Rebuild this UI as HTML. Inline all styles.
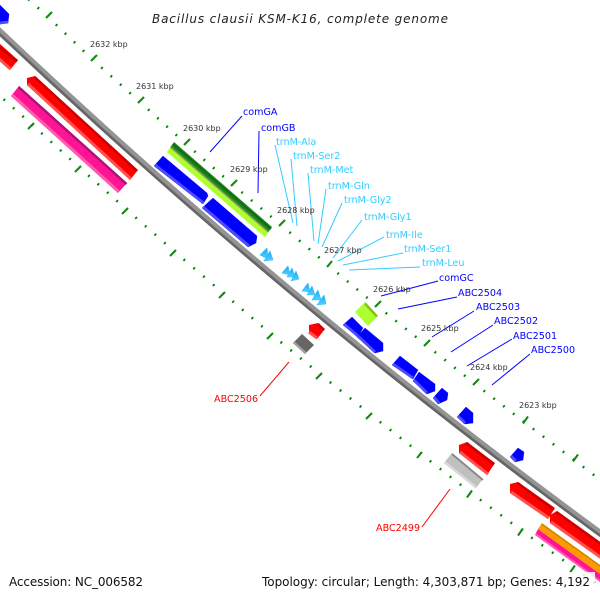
<!DOCTYPE html>
<html><head><meta charset="utf-8"><style>
html,body{margin:0;padding:0;background:#fff}
svg{display:block}
text{font-family:"DejaVu Sans",sans-serif}
.k{font-size:8px;fill:#333}
.b{font-size:9.6px;fill:#0000ff}
.c{font-size:9.6px;fill:#33ccff}
.r{font-size:9.6px;fill:#ff0000}
.f{font-size:12px;fill:#111}
.d{fill:none;stroke:#008000;stroke-width:2.6;stroke-dasharray:.14 .86;stroke-dashoffset:.07}
.m line{stroke:#128a12;stroke-width:2.1}
.lb line{stroke:#0000ff;stroke-width:1}
.lc line{stroke:#33ccff;stroke-width:1}
.lr line{stroke:#ff0000;stroke-width:1}
.bl polygon{fill:#0000ff;stroke:#0000ff;stroke-width:.4}
.bl line{stroke:#4d4dff;stroke-width:2.8}
.rd polygon{fill:#ff0000}
.rd line.u{stroke:#cc0000;stroke-width:2.5}
.rd line.l{stroke:#ff5050;stroke-width:3}
.tr polygon{fill:url(#cy);stroke:#33bbff;stroke-width:.6;stroke-linejoin:round}
</style></head><body>
<svg width="600" height="600" viewBox="0 0 600 600" xmlns="http://www.w3.org/2000/svg">
<defs><linearGradient id="cy" x1="0" y1="0" x2="0" y2="1"><stop offset="0" stop-color="#1ea5f5"/><stop offset="1" stop-color="#4fd2ff"/></linearGradient></defs>
<rect width="600" height="600" fill="#fff"/>

<!-- backbone -->
<path d="M-10 22.5Q286 304 610 540.500" fill="none" stroke="#666" stroke-width="6.500"/>
<path d="M-9 21.5Q287 303 611 539.500" fill="none" stroke="#949494" stroke-width="4"/>

<!-- outer dots -->
<g>
<path class="d" pathLength="5" d="M1.500 -25.500L47.500 16.500"/>
<path class="d" pathLength="5" d="M47.500 16.500L92.500 59.500"/>
<path class="d" pathLength="5" d="M92.500 59.500L139.500 101.500"/>
<path class="d" pathLength="5" d="M139.500 101.500L185.500 143.500"/>
<path class="d" pathLength="5" d="M185.500 143.500L232.500 184.500"/>
<path class="d" pathLength="5" d="M232.500 184.500L280.500 224.500"/>
<path class="d" pathLength="5" d="M280.500 224.500L328.500 265.500"/>
<path class="d" pathLength="5" d="M328.500 265.500L376.500 305.500"/>
<path class="d" pathLength="5" d="M376.500 305.500L425.500 344.500"/>
<path class="d" pathLength="5" d="M425.500 344.500L474.500 383.500"/>
<path class="d" pathLength="5" d="M474.500 383.500L523.500 421.500"/>
<path class="d" pathLength="5" d="M523.500 421.500L573.500 459.500"/>
<path class="d" pathLength="5" d="M573.500 459.500L623.500 497.500"/>
<!-- inner dots -->
<path class="d" pathLength="5" d="M-14.500 83L32.500 125"/>
<path class="d" pathLength="5" d="M32.500 125L79.500 167.500"/>
<path class="d" pathLength="5" d="M79.500 167.500L126.500 209.500"/>
<path class="d" pathLength="5" d="M126.500 209.500L174.500 251.500"/>
<path class="d" pathLength="5" d="M174.500 251.500L223.500 293.500"/>
<path class="d" pathLength="5" d="M223.500 293.500L271.500 334.500"/>
<path class="d" pathLength="5" d="M271.500 334.500L320.500 374.500"/>
<path class="d" pathLength="5" d="M320.500 374.500L370.500 414.500"/>
<path class="d" pathLength="5" d="M370.500 414.500L420.500 453.500"/>
<path class="d" pathLength="5" d="M420.500 453.500L470.500 492.500"/>
<path class="d" pathLength="5" d="M470.500 492.500L521.500 530.500"/>
<path class="d" pathLength="5" d="M521.500 530.500L573.500 567.500"/>
<path class="d" pathLength="5" d="M573.500 567.500L625.500 604.500"/>
</g>
<!-- major ticks -->
<g class="m">
<line x1="46" y1="18" x2="52" y2="12"/>
<line x1="91" y1="61" x2="97" y2="55"/>
<line x1="138" y1="103" x2="144" y2="97"/>
<line x1="184" y1="145" x2="190" y2="139"/>
<line x1="231" y1="186" x2="237" y2="180"/>
<line x1="279" y1="226" x2="285" y2="220"/>
<line x1="327" y1="267" x2="332" y2="261"/>
<line x1="375" y1="307" x2="381" y2="301"/>
<line x1="424" y1="346" x2="430" y2="340"/>
<line x1="473" y1="385" x2="479" y2="379"/>
<line x1="523" y1="423.500" x2="528" y2="416.500"/>
<line x1="573" y1="461.500" x2="578" y2="454.500"/>
<line x1="28" y1="129" x2="34" y2="123"/>
<line x1="75" y1="172" x2="81" y2="166"/>
<line x1="122" y1="214" x2="128" y2="208"/>
<line x1="170" y1="256" x2="176" y2="250"/>
<line x1="219" y1="298" x2="225" y2="292"/>
<line x1="267" y1="339" x2="273" y2="333"/>
<line x1="316" y1="379" x2="322" y2="373"/>
<line x1="366" y1="419" x2="372" y2="413"/>
<line x1="417" y1="458" x2="422" y2="452"/>
<line x1="467" y1="497.500" x2="472" y2="490.500"/>
<line x1="518" y1="535.500" x2="523" y2="528.500"/>
<line x1="570" y1="572.500" x2="575" y2="565.500"/>
</g>

<!-- blue genes -->
<g class="bl">
<polygon points="-3,3 0,5 9,14 8,23 0,24 -3,24"/><line x1="0" y1="23" x2="8" y2="22"/>
<polygon points="163,156 207,193 208,196 203,204 154,166"/><line x1="155" y1="165" x2="203.500" y2="203"/>
<polygon points="213,198 257,236 256,243 248,247 202,208"/><line x1="203" y1="207" x2="249" y2="246"/>
<polygon points="352,317 363,328 358,337 343,325"/><line x1="344" y1="324" x2="358" y2="336"/>
<polygon points="365,328 383,343 383,351 375,353 357,337"/><line x1="358" y1="336" x2="375" y2="352"/>
<polygon points="400,356 418,370 413,379 392,365"/><line x1="393" y1="364" x2="413" y2="378"/>
<polygon points="419,372 435,384 435,391 427,394 413,381"/><line x1="414" y1="380" x2="427" y2="393"/>
<polygon points="442,388 448,393 447,400 438,404 433,398"/><line x1="434" y1="397" x2="439" y2="403"/>
<polygon points="466,407 473,413 473,423 465,424 457,417"/><line x1="458" y1="416" x2="465" y2="423"/>
<polygon points="518,448 524,452 523,460 515,462 510,457"/><line x1="511" y1="456" x2="516" y2="461"/>
</g>

<!-- red genes -->
<g class="rd">
<polygon points="-3,42 0,44 18,60 10,70 -3,58"/><line class="l" x1="-3" y1="57" x2="10.500" y2="69"/><line class="u" x1="-3" y1="44.500" x2="17" y2="61.500"/>
<polygon points="27,78 35,76 138,170 130,180 27,85"/><line class="l" x1="28" y1="84" x2="131" y2="179"/><line class="u" x1="34.500" y1="77" x2="137" y2="171"/>
<polygon points="309,325 318,323 325,329 317,339 309,333"/><line class="l" x1="309" y1="332" x2="317" y2="338"/><line class="u" x1="318" y1="324" x2="324" y2="330"/>
<polygon points="459,445 467,442 495,463 487,475 459,453"/><line class="l" x1="460" y1="452" x2="488" y2="474"/><line class="u" x1="466.500" y1="443" x2="494" y2="464.500"/>
<polygon points="510,484 518,482 555,508 548,519 510,493"/><line class="l" x1="511" y1="492" x2="549" y2="518"/><line class="u" x1="517.500" y1="483" x2="554" y2="509.500"/>
<polygon points="550,515 557,511 603,544 603,560 550,523"/><line class="l" x1="551" y1="522" x2="603" y2="559"/><line class="u" x1="556.500" y1="512" x2="603" y2="545.500"/>
</g>

<!-- pink -->
<polygon points="19,86 127,183 118,193 11,96" fill="#ff1493"/>
<line x1="18.500" y1="87" x2="126.500" y2="184" stroke="#b0107a" stroke-width="2.500"/>
<line x1="12" y1="95" x2="119" y2="192" stroke="#ff5cb0" stroke-width="3"/>
<polygon points="538,529 603,576 603,584 535,535" fill="#ff1493"/>
<line x1="535.500" y1="534" x2="603" y2="583" stroke="#ff5cb0" stroke-width="2"/>

<!-- orange -->
<polygon points="542,523 603,567 603,576 538,529" fill="#ff9900"/>
<line x1="541.500" y1="524" x2="603" y2="568" stroke="#c98200" stroke-width="1.200"/>

<!-- green -->
<polygon points="174,142 272,227 268.500,232 170.500,147" fill="#1f851f"/>
<polygon points="170.500,147 268.500,232 265,237 167,152" fill="#adff2f"/>
<line x1="173" y1="144" x2="271" y2="229" stroke="#0c6a0c" stroke-width="1.500"/>
<line x1="170.500" y1="147" x2="268.500" y2="232" stroke="#7d9a55" stroke-width="1.500"/>
<polygon points="365,302 378,316 368,326 355,312" fill="#adff2f"/>
<line x1="365" y1="303.500" x2="377" y2="316.500" stroke="#88c020" stroke-width="2.500"/>

<!-- gray -->
<polygon points="302,334 314,345 305,354 293,343" fill="#666"/>
<line x1="294" y1="342.500" x2="305.500" y2="353" stroke="#a0a0a0" stroke-width="2.500"/>
<polygon points="452,453 483,479 476,488 444,463" fill="#c0c0c0"/>
<line x1="452" y1="454" x2="483" y2="480" stroke="#888" stroke-width="1.800"/>
<line x1="445" y1="462.500" x2="476.500" y2="487.500" stroke="#d8d8d8" stroke-width="2.500"/>

<!-- cyan tRNA -->
<g class="tr">
<polygon points="260,255 267,248 268,259"/>
<polygon points="264,261 270,251 273,260"/>
<polygon points="282,273 288,266 290,275"/>
<polygon points="287,277 292,268 295,277"/>
<polygon points="291,281 296,271 299,279"/>
<polygon points="302,291 308,283 310,292"/>
<polygon points="307,295 312,286 315,295"/>
<polygon points="312,300 318,290 321,300"/>
<polygon points="317,305 324,295 326,304"/>
</g>

<!-- connectors -->
<g class="lb">
<line x1="242" y1="116" x2="210" y2="152"/>
<line x1="259" y1="131" x2="258" y2="193"/>
<line x1="438" y1="281" x2="381" y2="296"/>
<line x1="457" y1="297" x2="398" y2="309"/>
<line x1="474" y1="311" x2="432" y2="337"/>
<line x1="493" y1="325" x2="451" y2="352"/>
<line x1="512" y1="339" x2="467" y2="366"/>
<line x1="530" y1="354" x2="492" y2="385"/>
</g>
<g class="lc">
<line x1="275" y1="145" x2="293" y2="223"/>
<line x1="291" y1="159" x2="297" y2="226"/>
<line x1="308" y1="173" x2="314" y2="241"/>
<line x1="326" y1="189" x2="318" y2="244"/>
<line x1="342" y1="203" x2="322" y2="247"/>
<line x1="362" y1="220" x2="333" y2="258"/>
<line x1="384" y1="237" x2="338" y2="261"/>
<line x1="403" y1="253" x2="343" y2="265"/>
<line x1="420" y1="267" x2="349" y2="270"/>
</g>
<g class="lr">
<line x1="289" y1="362" x2="260" y2="396"/>
<line x1="450" y1="489" x2="422" y2="527"/>
</g>

<!-- kbp labels -->
<g class="k">
<text x="90" y="47">2632 kbp</text>
<text x="136" y="89">2631 kbp</text>
<text x="183" y="131">2630 kbp</text>
<text x="230" y="172">2629 kbp</text>
<text x="277" y="213">2628 kbp</text>
<text x="324" y="253">2627 kbp</text>
<text x="373" y="292">2626 kbp</text>
<text x="421" y="331">2625 kbp</text>
<text x="470" y="370">2624 kbp</text>
<text x="519" y="408">2623 kbp</text>
</g>

<!-- gene labels -->
<text class="b" x="243" y="115">comGA</text>
<text class="b" x="261" y="131">comGB</text>
<text class="c" x="276" y="145">trnM-Ala</text>
<text class="c" x="293" y="159">trnM-Ser2</text>
<text class="c" x="310" y="173">trnM-Met</text>
<text class="c" x="328" y="189">trnM-Gln</text>
<text class="c" x="344" y="203">trnM-Gly2</text>
<text class="c" x="364" y="220">trnM-Gly1</text>
<text class="c" x="386" y="238">trnM-Ile</text>
<text class="c" x="404" y="252">trnM-Ser1</text>
<text class="c" x="422" y="266">trnM-Leu</text>
<text class="b" x="439" y="281">comGC</text>
<text class="b" x="458" y="296">ABC2504</text>
<text class="b" x="476" y="310">ABC2503</text>
<text class="b" x="494" y="324">ABC2502</text>
<text class="b" x="513" y="339">ABC2501</text>
<text class="b" x="531" y="353">ABC2500</text>
<text class="r" x="214" y="402">ABC2506</text>
<text class="r" x="376" y="531">ABC2499</text>

<!-- title & footer -->
<text x="152" y="23" font-size="12" font-style="italic" fill="#222" textLength="296" lengthAdjust="spacing">Bacillus clausii KSM-K16, complete genome</text>
<rect x="7" y="572" width="138" height="20" fill="#fff" fill-opacity=".85"/>
<rect x="260" y="572" width="335" height="20" fill="#fff" fill-opacity=".85"/>
<text class="f" x="9" y="586" textLength="134" lengthAdjust="spacing">Accession: NC_006582</text>
<text class="f" x="262" y="586" textLength="328" lengthAdjust="spacing">Topology: circular; Length: 4,303,871 bp; Genes: 4,192</text>
</svg>
</body></html>
